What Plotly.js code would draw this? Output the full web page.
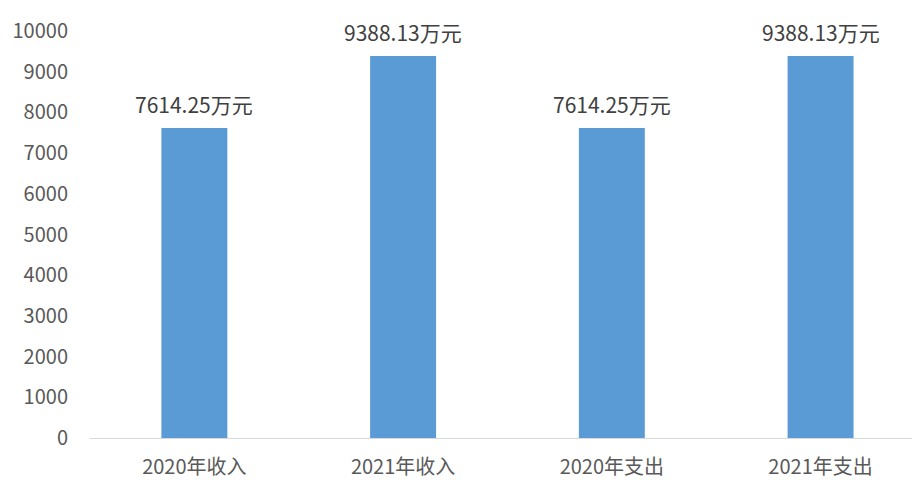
<!DOCTYPE html>
<html>
<head>
<meta charset="utf-8">
<script src="https://cdn.plot.ly/plotly-3.0.1.min.js"></script>
<style>html,body{margin:0;padding:0;background:#fff;}#chart{width:912px;height:480px;}</style>
</head>
<body>
<div id="chart"></div>
<script>
var categories = ["2020年收入", "2021年收入", "2020年支出", "2021年支出"];
var values = [7614.25, 9388.13, 7614.25, 9388.13];
var labels = ["7614.25万元", "9388.13万元", "7614.25万元", "9388.13万元"];
var yTicks = [0, 1000, 2000, 3000, 4000, 5000, 6000, 7000, 8000, 9000, 10000];

var FONT = '"Noto Sans CJK SC", "Noto Sans", sans-serif';
var TXT = '#595959';

var trace = {
  type: 'bar',
  x: categories,
  y: values,
  marker: {color: '#5B9BD5'},
  hoverinfo: 'none'
};

var annotations = categories.map(function (c, i) {
  return {
    x: c, y: values[i], text: labels[i],
    xref: 'x', yref: 'y', showarrow: false,
    yanchor: 'bottom', yshift: 7,
    font: {family: FONT, size: 21, color: '#404040'}
  };
});

var layout = {
  width: 912, height: 480,
  margin: {l: 90, r: 0, t: 31, b: 42},
  paper_bgcolor: '#fff', plot_bgcolor: '#fff',
  showlegend: false,
  bargap: 0.684,
  font: {family: FONT, color: TXT},
  xaxis: {
    type: 'category',
    range: [-0.5, 3.438],
    showline: true, linecolor: '#D9D9D9', linewidth: 1,
    showgrid: false, zeroline: false,
    ticks: 'outside', ticklen: 11, tickcolor: 'rgba(0,0,0,0)',
    tickfont: {family: FONT, size: 20, color: TXT},
    fixedrange: true
  },
  yaxis: {
    range: [0, 10000],
    tickvals: yTicks,
    ticktext: yTicks.map(String),
    showline: false, showgrid: false, zeroline: false,
    ticks: 'outside', ticklen: 17, tickcolor: 'rgba(0,0,0,0)',
    tickfont: {family: FONT, size: 20, color: TXT},
    fixedrange: true
  },
  annotations: annotations
};

Plotly.newPlot('chart', [trace], layout, {displayModeBar: false, staticPlot: true});
</script>
</body>
</html>
